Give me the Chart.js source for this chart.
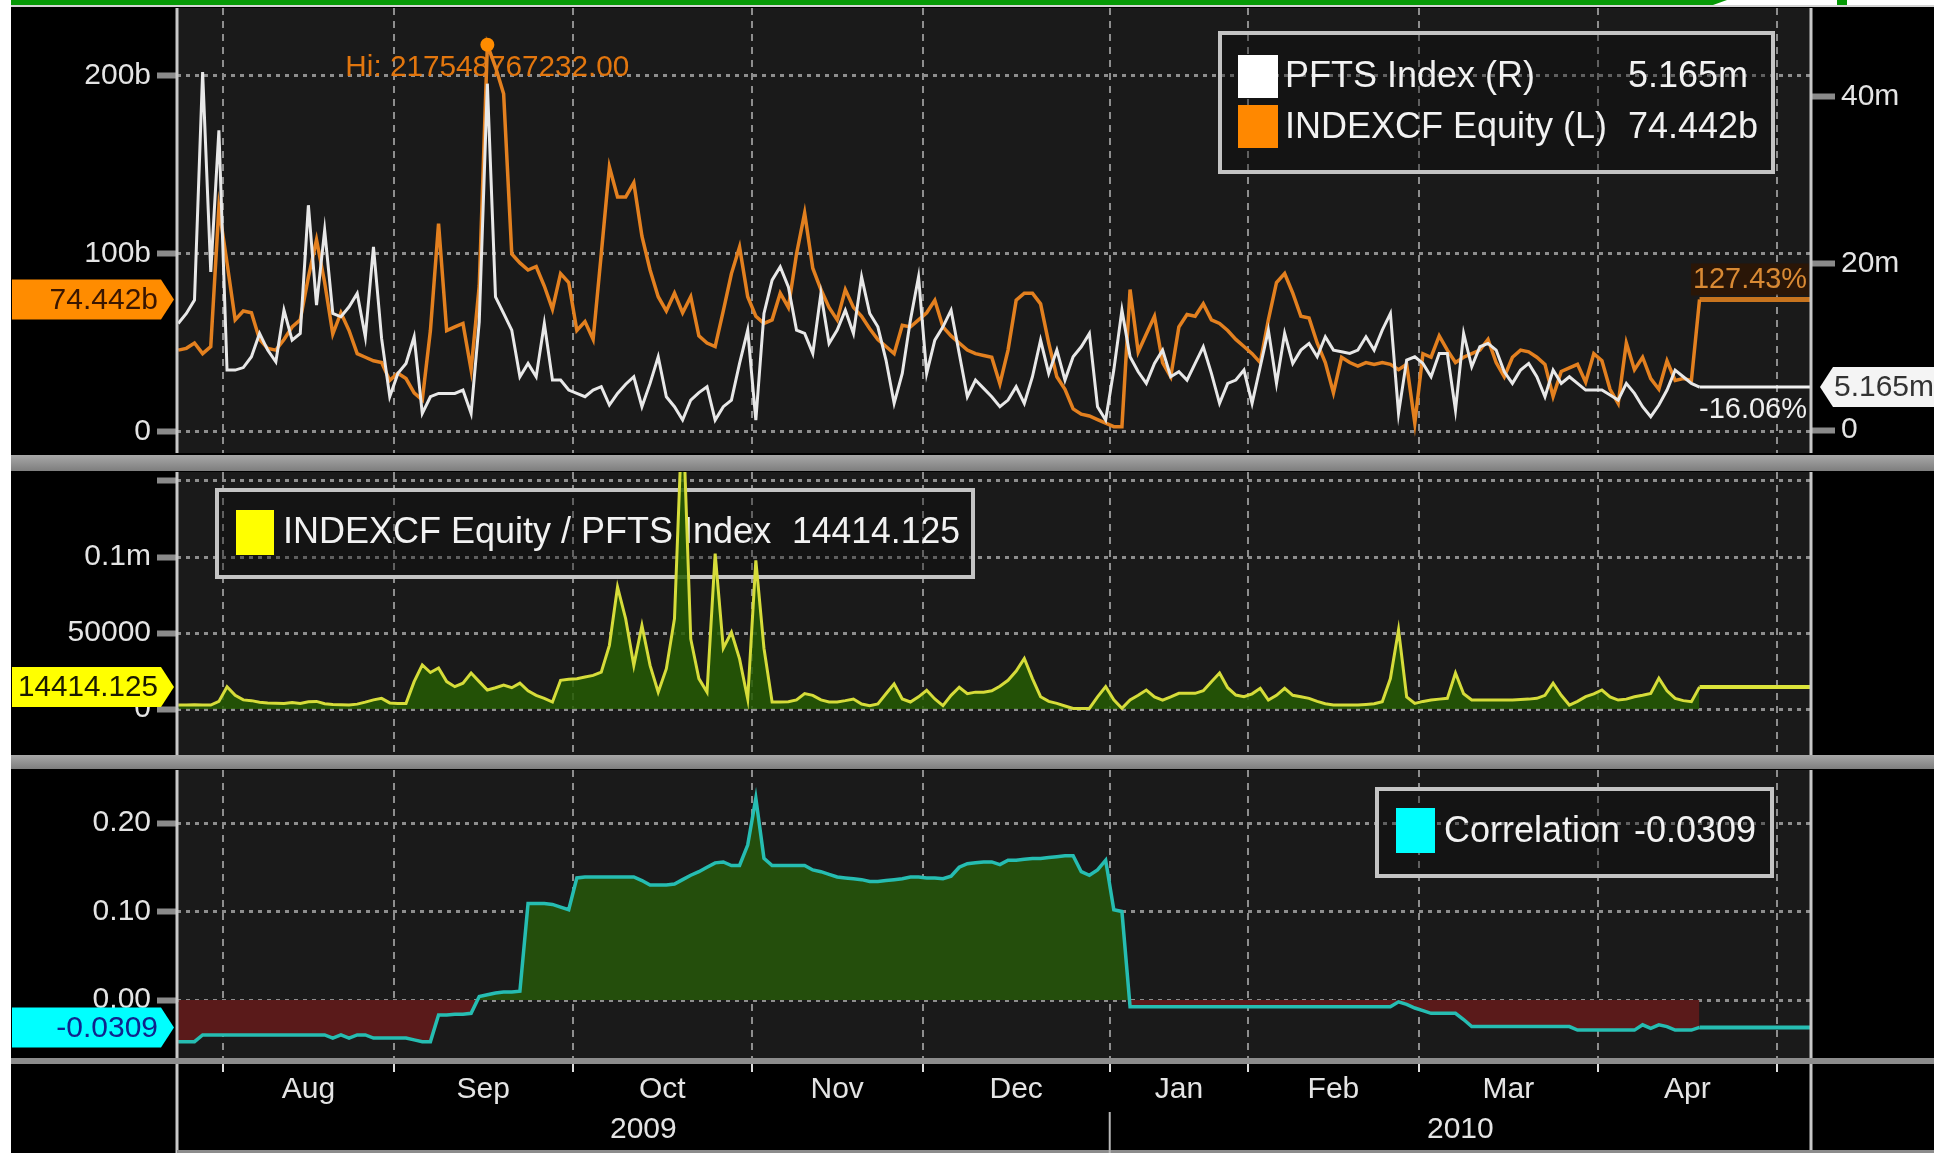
<!DOCTYPE html>
<html>
<head>
<meta charset="utf-8">
<title>INDEXCF Equity / PFTS Index</title>
<script src="https://cdn.jsdelivr.net/npm/chart.js@4.4.0/dist/chart.umd.min.js"></script>
<style>
  html, body { margin: 0; padding: 0; background: #fff; }
  #page { position: relative; width: 1934px; height: 1153px; overflow: hidden; background: #fff; }
  #back { position: absolute; left: 11px; top: 7px; right: 0; bottom: 0; background: #000; }
  .strip { position: absolute; }
  .sep { left: 11px; right: 0; background: linear-gradient(#a8a8a8, #7e7e7e); }
  canvas { position: absolute; left: 11px; }
</style>
</head>
<body>
<div id="page">
  <div id="back"></div>
  <div class="strip" style="left:11px;top:0;width:1716px;height:5px;background:#069906;clip-path:polygon(0 0,100% 0,calc(100% - 14px) 100%,0 100%)"></div>
  <div class="strip" style="left:1837px;top:0;width:10px;height:6px;background:#069906"></div>
  <div class="strip" style="left:11px;top:5px;right:0;height:2px;background:#d4d4d4"></div>
  <canvas id="topChart" width="1923" height="448" style="top:7px"></canvas>
  <div class="strip sep" style="top:455px;height:16px"></div>
  <canvas id="midChart" width="1923" height="284" style="top:471px"></canvas>
  <div class="strip sep" style="top:755px;height:14px"></div>
  <canvas id="botChart" width="1923" height="384" style="top:769px"></canvas>
</div>
<script>
// trading days per month, first entry is the end of July 2009
var daysPerMonth = [6, 21, 22, 22, 21, 23, 17, 21, 22, 22];
var months = ['Aug', 'Sep', 'Oct', 'Nov', 'Dec', 'Jan', 'Feb', 'Mar', 'Apr'];
var years = ['2009', '2010'];

// INDEXCF Equity, billions (left axis)
var indexcf = [46, 47, 50, 44, 48, 126, 95, 63, 68, 67,
  52, 47, 46, 52, 59, 63, 87, 108, 84, 55,
  67, 57, 44, 42, 40, 39, 29, 33, 30, 22,
  18, 57, 117, 57, 59, 61, 35, 82, 217.548767232, 205,
  190, 100, 95, 91, 93, 82, 69, 89, 84, 57,
  62, 52, 100, 149, 132, 132, 140, 110, 91, 76,
  68, 78, 67, 76, 54, 50, 48, 68, 89, 104,
  76, 65, 61, 63, 78, 70, 100, 123, 92, 80,
  70, 63, 80, 70, 65, 58, 52, 48, 44, 60,
  59, 63, 67, 74, 59, 54, 50, 46, 44, 43,
  42, 27, 46, 74, 78, 78, 72, 50, 31, 24,
  13, 10, 9, 7, 5, 3, 3, 80, 45, 55,
  65, 39, 31, 59, 66, 65, 72, 63, 61, 57,
  52, 48, 44, 39, 63, 84, 89, 78, 65, 64,
  50, 39, 22, 42, 39, 37, 39, 38, 39, 38,
  35, 38, 5, 44, 42, 54, 46, 39, 42, 44,
  46, 52, 39, 31, 42, 46, 45, 42, 38, 20,
  34, 36, 38, 28, 44, 40, 24, 16, 50, 35,
  42, 30, 24, 40, 29, 30, 29, 74.442];

// PFTS Index, millions (right axis)
var pfts = [12.8, 14, 15.6, 43, 19, 36, 7.2, 7.2, 7.5, 8.8,
  11.6, 9.6, 8.2, 14.4, 10.8, 11.6, 27, 15, 24, 14,
  13.6, 14.8, 16.4, 11.2, 22, 11, 4, 6.8, 8, 11.2,
  2, 4, 4.4, 4.4, 4.4, 4.8, 2, 13, 41.6, 16,
  14, 12, 6.4, 8, 6.4, 12.8, 6, 6, 4.8, 4.4,
  4, 4.8, 5.2, 3, 4.4, 5.5, 6.4, 2.8, 5.6, 8.8,
  4, 2.8, 1.2, 3.6, 4.5, 5.2, 1.2, 2.8, 3.6, 8,
  12, 1.2, 14, 18, 19.6, 17.2, 12, 11.6, 9.2, 16.4,
  10.4, 12, 14.4, 11.6, 18.4, 14, 12.4, 8.4, 3.2, 6.8,
  13.2, 18.4, 6.8, 10.8, 12.4, 14.4, 9.2, 4, 6, 5,
  4, 2.8, 3.6, 5.2, 3.2, 6.4, 10.8, 6.8, 9.6, 6,
  8.8, 10, 11.6, 2.8, 1.2, 7.2, 14.4, 8.8, 7, 5.6,
  8, 9.6, 6.4, 7, 6, 8, 10, 6.8, 3.2, 5.6,
  6, 7.2, 3.2, 7.6, 12, 5.6, 11.6, 8, 9.6, 10.4,
  8.8, 11.2, 9.6, 9.4, 9.2, 9.6, 11.2, 9.6, 12, 14,
  2, 8.4, 8.8, 8, 6.4, 9.2, 9.2, 2.4, 11.6, 7.6,
  10, 10.4, 9.6, 7, 5.6, 7.2, 8, 6.4, 4, 7.2,
  5.6, 6.4, 5.6, 4.8, 4.8, 4.8, 4.2, 3.6, 5.6, 4.4,
  2.8, 1.6, 3, 4.8, 7.2, 6.4, 5.6, 5.165];

// INDEXCF Equity / PFTS Index
var ratio = [2600, 2600, 2800, 2600, 2600, 5000, 14700, 9000, 6000, 5500,
  4500, 4000, 3800, 3700, 4200, 3600, 4800, 5000, 3500, 3000,
  2800, 2600, 3200, 4500, 6000, 7000, 4000, 3700, 3700, 18000,
  29000, 24000, 27000, 18000, 14700, 17000, 23700, 18000, 12500, 14000,
  15800, 14000, 17000, 12000, 9000, 7000, 4600, 18900, 19500, 19900,
  21000, 22100, 24300, 41900, 80300, 59400, 28700, 55000, 28700, 11100,
  26500, 59400, 200000, 46100, 20000, 11100, 102200, 40000, 50500, 33000,
  6600, 97800, 40000, 4600, 4600, 4800, 6000, 10100, 9000, 6000,
  4600, 4600, 5500, 6600, 3300, 2200, 3300, 10000, 16500, 6600,
  4600, 8000, 12300, 6600, 2200, 9000, 14300, 10100, 11100, 11100,
  12000, 15000, 18900, 25000, 33300, 20000, 8100, 5000, 3700, 2000,
  400, 400, 400, 8000, 14700, 6000, 400, 6000, 9000, 12500,
  8000, 5900, 8000, 10300, 10300, 10300, 12000, 18000, 23700, 14000,
  9200, 8100, 10000, 13600, 5900, 9000, 13600, 9000, 8100, 7000,
  5000, 3500, 2600, 2600, 2600, 2600, 3000, 3500, 4800, 20000,
  52100, 8000, 3700, 5000, 5900, 6500, 7000, 23700, 10000, 5900,
  5900, 5900, 5900, 5900, 5900, 6200, 6500, 7000, 9000, 17000,
  9000, 2600, 5000, 8100, 10000, 12500, 8000, 5900, 6500, 8100,
  9000, 10300, 20200, 12000, 7000, 5500, 4800, 14414.125];

// Correlation
var correlation = [-0.047, -0.047, -0.047, -0.0395, -0.0395, -0.0395, -0.0395, -0.0395, -0.0395, -0.0395,
  -0.0395, -0.0395, -0.0395, -0.0395, -0.0395, -0.0395, -0.0395, -0.0395, -0.0395, -0.043,
  -0.0395, -0.043, -0.0395, -0.0395, -0.043, -0.043, -0.043, -0.043, -0.043, -0.045,
  -0.047, -0.047, -0.017, -0.017, -0.016, -0.016, -0.015, 0.004, 0.006, 0.008,
  0.009, 0.009, 0.010, 0.109, 0.109, 0.109, 0.108, 0.105, 0.102, 0.138,
  0.139, 0.139, 0.139, 0.139, 0.139, 0.139, 0.139, 0.135, 0.130, 0.130,
  0.130, 0.131, 0.136, 0.141, 0.145, 0.150, 0.155, 0.156, 0.152, 0.152,
  0.175, 0.228, 0.160, 0.152, 0.152, 0.152, 0.152, 0.152, 0.147, 0.145,
  0.142, 0.139, 0.138, 0.137, 0.136, 0.134, 0.134, 0.135, 0.136, 0.137,
  0.139, 0.139, 0.138, 0.138, 0.137, 0.140, 0.150, 0.154, 0.155, 0.156,
  0.156, 0.153, 0.158, 0.158, 0.159, 0.160, 0.160, 0.161, 0.162, 0.163,
  0.163, 0.145, 0.141, 0.147, 0.158, 0.102, 0.100, -0.0075, -0.0075, -0.0075,
  -0.0075, -0.0075, -0.0075, -0.0075, -0.0075, -0.0075, -0.0075, -0.0075, -0.0075, -0.0075,
  -0.0075, -0.0075, -0.0075, -0.0075, -0.0075, -0.0075, -0.0075, -0.0075, -0.0075, -0.0075,
  -0.0075, -0.0075, -0.0075, -0.0075, -0.0075, -0.0075, -0.0075, -0.0075, -0.0075, -0.0075,
  -0.002, -0.005, -0.009, -0.012, -0.015, -0.015, -0.015, -0.015, -0.022, -0.030,
  -0.030, -0.030, -0.030, -0.030, -0.030, -0.030, -0.030, -0.030, -0.030, -0.030,
  -0.030, -0.030, -0.034, -0.034, -0.034, -0.034, -0.034, -0.034, -0.034, -0.034,
  -0.028, -0.032, -0.028, -0.030, -0.034, -0.034, -0.034, -0.0309];

// tick values and labels
var leftTicks = [0, 100, 200];
var leftTickLabels = ['0', '100b', '200b'];
var rightTicks = [0, 20, 40];
var rightTickLabels = ['0', '20m', '40m'];
var ratioTicks = [0, 50000, 100000, 150000];
var ratioTickLabels = ['0', '50000', '0.1m', ''];
var corrTicks = [0, 0.1, 0.2];
var corrTickLabels = ['0.00', '0.10', '0.20'];
var pctChange = ['127.43%', '-16.06%'];

var FONT = "'Liberation Sans', Arial, sans-serif";
var xMin = -0.15;
var xMax = 200.7;

// month edges and label positions on the trading day axis
var monthEdges = [];
var acc = 0;
for (var i = 0; i < daysPerMonth.length; i++) {
  acc += daysPerMonth[i];
  monthEdges.push(acc - 0.5);
}
var monthCenters = [];
for (var i = 0; i < months.length; i++) {
  monthCenters.push((monthEdges[i] + monthEdges[i + 1]) / 2);
}
var yearEdge = monthEdges[5];
var yearCenters = [(xMin + yearEdge) / 2, (yearEdge + xMax) / 2];

function toPoints(arr) {
  return arr.map(function (v, i) { return { x: i, y: v }; });
}
function lastLine(arr) {
  var n = arr.length - 1;
  return [{ x: n, y: arr[n] }, { x: xMax, y: arr[n] }];
}
function setTicks(list) {
  return function (scale) { scale.ticks = list.map(function (v) { return { value: v }; }); };
}
// fixed axis size, no extra room for edge labels
function fixWidth(w) {
  return function (s) { s.width = w; s.paddingTop = 0; s.paddingBottom = 0; };
}
function fixHeight(h) {
  return function (s) { s.height = h; s.paddingLeft = 0; s.paddingRight = 0; };
}

function txt(ctx, s, x, y, size, color, align, maxW) {
  ctx.save();
  ctx.font = size + 'px ' + FONT;
  ctx.fillStyle = color;
  ctx.textAlign = align || 'left';
  ctx.textBaseline = 'middle';
  if (maxW) ctx.fillText(s, x, y, maxW); else ctx.fillText(s, x, y);
  ctx.restore();
}

function tagLeft(ctx, s, yc, fill, color) {
  var h = 40, x0 = 1, x1 = 150, tip = 163;
  ctx.save();
  ctx.beginPath();
  ctx.moveTo(x0, yc - h / 2);
  ctx.lineTo(x1, yc - h / 2);
  ctx.lineTo(tip, yc);
  ctx.lineTo(x1, yc + h / 2);
  ctx.lineTo(x0, yc + h / 2);
  ctx.closePath();
  ctx.fillStyle = fill;
  ctx.fill();
  ctx.restore();
  txt(ctx, s, 147, yc + 1, 30, color, 'right', 140);
}

function tagRight(ctx, s, yc, fill, color) {
  var h = 40, tip = 1809, x1 = 1822, x2 = 1923;
  ctx.save();
  ctx.beginPath();
  ctx.moveTo(tip, yc);
  ctx.lineTo(x1, yc - h / 2);
  ctx.lineTo(x2, yc - h / 2);
  ctx.lineTo(x2, yc + h / 2);
  ctx.lineTo(x1, yc + h / 2);
  ctx.closePath();
  ctx.fillStyle = fill;
  ctx.fill();
  ctx.restore();
  txt(ctx, s, 1823, yc + 1, 30, color, 'left', 100);
}

function legendBox(ctx, x, y, w, h) {
  ctx.save();
  ctx.fillStyle = 'rgba(12,12,12,0.35)';
  ctx.fillRect(x, y, w, h);
  ctx.strokeStyle = '#c4c4c4';
  ctx.lineWidth = 4;
  ctx.strokeRect(x, y, w, h);
  ctx.restore();
}

function swatch(ctx, x, y, w, h, color) {
  ctx.save();
  ctx.fillStyle = color;
  ctx.fillRect(x, y, w, h);
  ctx.restore();
}

// background and frame for each panel
function panelPlugin(extendDown) {
  return {
    id: 'panel',
    beforeDraw: function (chart) {
      var ctx = chart.ctx, a = chart.chartArea;
      ctx.save();
      ctx.fillStyle = '#000';
      ctx.fillRect(0, 0, chart.width, chart.height);
      ctx.fillStyle = '#1a1a1a';
      ctx.fillRect(a.left, a.top, a.right - a.left, a.bottom - a.top);
      ctx.restore();
    },
    afterDraw: function (chart) {
      var ctx = chart.ctx, a = chart.chartArea;
      var bottom = extendDown ? chart.height : a.bottom;
      ctx.save();
      ctx.strokeStyle = '#c8c8c8';
      ctx.lineWidth = 3;
      ctx.beginPath();
      ctx.moveTo(a.left, a.top);
      ctx.lineTo(a.left, bottom);
      ctx.moveTo(a.right, a.top);
      ctx.lineTo(a.right, bottom);
      ctx.stroke();
      ctx.restore();
    }
  };
}

function xDataScale(extra) {
  var base = {
    type: 'linear', min: xMin, max: xMax, weight: 0,
    afterBuildTicks: setTicks(monthEdges),
    ticks: { display: false },
    grid: { color: '#8e8e8e', lineWidth: 2, drawTicks: false },
    border: { display: false, dash: [7, 6] },
    afterFit: fixHeight(0)
  };
  return Object.assign(base, extra || {});
}

function yScale(min, max, ticks, labels, extra) {
  var base = {
    type: 'linear', position: 'left', min: min, max: max,
    afterBuildTicks: setTicks(ticks),
    ticks: {
      color: '#e4e4e4', padding: 6, autoSkip: false,
      font: { family: FONT, size: 30 },
      callback: function (v, i) { return labels[i]; }
    },
    grid: { color: '#8e8e8e', lineWidth: 3, tickColor: '#8a8a8a', tickLength: 20, tickWidth: 6 },
    border: { display: false, dash: [4, 5] },
    afterFit: fixWidth(166)
  };
  return Object.assign(base, extra || {});
}

var common = {
  responsive: false,
  animation: false,
  devicePixelRatio: 1,
  events: [],
  elements: { point: { radius: 0, hoverRadius: 0 }, line: { tension: 0 } }
};

// ---------- top panel ----------
var hiIndex = indexcf.indexOf(Math.max.apply(null, indexcf));
var lastCf = indexcf[indexcf.length - 1];
var lastPfts = pfts[pfts.length - 1];

var topExtras = {
  id: 'topExtras',
  beforeDatasetsDraw: function (chart) {
    var ctx = chart.ctx;
    legendBox(ctx, 1209, 26, 553, 139);
    swatch(ctx, 1227, 48, 40, 43, '#ffffff');
    swatch(ctx, 1227, 98, 40, 43, '#ff8800');
    txt(ctx, 'PFTS Index (R)', 1274, 70, 36, '#f2f2f2', 'left', 255);
    txt(ctx, lastPfts.toFixed(3) + 'm', 1617, 70, 36, '#f2f2f2', 'left');
    txt(ctx, 'INDEXCF Equity (L)', 1274, 121, 36, '#f2f2f2', 'left', 325);
    txt(ctx, lastCf.toFixed(3) + 'b', 1617, 121, 36, '#f2f2f2', 'left');
    var hx = chart.scales.x.getPixelForValue(hiIndex);
    var hy = chart.scales.y.getPixelForValue(indexcf[hiIndex]);
    txt(ctx, 'Hi: ' + (indexcf[hiIndex] * 1e9).toFixed(2), hx - 142, hy + 23, 30, '#e2760e', 'left', 284);
  },
  afterDraw: function (chart) {
    var ctx = chart.ctx, a = chart.chartArea;
    var yo = chart.scales.y.getPixelForValue(lastCf);
    var yw = chart.scales.y1.getPixelForValue(lastPfts);
    ctx.save();
    ctx.fillStyle = 'rgba(50,22,0,0.7)';
    ctx.fillRect(a.right - 120, yo - 36, 118, 32);
    ctx.restore();
    txt(ctx, pctChange[0], a.right - 4, yo - 19, 29, '#d98a34', 'right', 114);
    txt(ctx, pctChange[1], a.right - 4, yw + 23, 29, '#f0f0f0', 'right', 112);
    tagLeft(ctx, lastCf.toFixed(3) + 'b', yo, '#ff8c00', '#3a1600');
    tagRight(ctx, lastPfts.toFixed(3) + 'm', yw, '#f4f4f4', '#333333');
  }
};

new Chart(document.getElementById('topChart'), {
  type: 'line',
  data: {
    datasets: [
      { data: toPoints(pfts), yAxisID: 'y1', borderColor: '#e8e8e8', borderWidth: 3, order: 0 },
      { data: lastLine(pfts), yAxisID: 'y1', borderColor: '#f0f0f0', borderWidth: 3, order: 1 },
      {
        data: toPoints(indexcf), yAxisID: 'y', borderColor: '#e3801f', borderWidth: 3.5, order: 2,
        pointRadius: function (c) { return c.dataIndex === hiIndex ? 7 : 0; },
        pointBackgroundColor: '#ff8c00', pointBorderWidth: 0
      },
      { data: lastLine(indexcf), yAxisID: 'y', borderColor: '#c8741e', borderWidth: 5, order: 3 }
    ]
  },
  options: Object.assign({}, common, {
    layout: { padding: { top: 1, bottom: 2, left: 0, right: 0 } },
    plugins: { legend: { display: false }, tooltip: { enabled: false } },
    scales: {
      x: xDataScale(),
      y: yScale(-11.8, 238.2, leftTicks, leftTickLabels),
      y1: yScale(-2.76, 50.69, rightTicks, rightTickLabels, {
        position: 'right',
        grid: { drawOnChartArea: false, tickColor: '#8a8a8a', tickLength: 24, tickWidth: 6 },
        border: { display: false },
        afterFit: fixWidth(123)
      })
    }
  }),
  plugins: [panelPlugin(false), topExtras]
});

// ---------- middle panel ----------
var lastRatio = ratio[ratio.length - 1];
var midExtras = {
  id: 'midExtras',
  beforeDatasetsDraw: function (chart) {
    var ctx = chart.ctx;
    legendBox(ctx, 206, 19, 756, 87);
    swatch(ctx, 225, 39, 38, 45, '#ffff00');
    txt(ctx, 'INDEXCF Equity / PFTS Index', 272, 62, 36, '#f2f2f2', 'left', 492);
    txt(ctx, lastRatio.toFixed(3), 781, 62, 36, '#f2f2f2', 'left', 168);
  },
  afterDraw: function (chart) {
    var y = chart.scales.y.getPixelForValue(lastRatio);
    tagLeft(chart.ctx, lastRatio.toFixed(3), y, '#ffff00', '#1a1a00');
  }
};

new Chart(document.getElementById('midChart'), {
  type: 'line',
  data: {
    datasets: [
      {
        data: toPoints(ratio), borderColor: '#d6dc3a', borderWidth: 3,
        fill: { target: 'origin', above: 'rgba(38,92,4,0.85)' }
      },
      { data: lastLine(ratio), borderColor: '#dce43a', borderWidth: 4 }
    ]
  },
  options: Object.assign({}, common, {
    layout: { padding: { top: 1, bottom: 0, left: 0, right: 123 } },
    plugins: { legend: { display: false }, tooltip: { enabled: false } },
    scales: {
      x: xDataScale(),
      y: yScale(-30263, 155921, ratioTicks, ratioTickLabels)
    }
  }),
  plugins: [panelPlugin(false), midExtras]
});

// ---------- bottom panel ----------
var lastCorr = correlation[correlation.length - 1];
var botExtras = {
  id: 'botExtras',
  beforeDatasetsDraw: function (chart) {
    var ctx = chart.ctx;
    legendBox(ctx, 1366, 20, 395, 87);
    swatch(ctx, 1385, 39, 39, 45, '#00ffff');
    txt(ctx, 'Correlation', 1433, 63, 36, '#f2f2f2', 'left', 178);
    txt(ctx, lastCorr.toFixed(4), 1623, 63, 36, '#f2f2f2', 'left', 124);
  },
  afterDraw: function (chart) {
    var ctx = chart.ctx, a = chart.chartArea;
    ctx.save();
    ctx.fillStyle = '#8c8c8c';
    ctx.fillRect(0, a.bottom, chart.width, 6);
    ctx.fillRect(a.left, chart.height - 3, chart.width - a.left, 3);
    var xs = chart.scales.x.getPixelForValue(yearEdge);
    ctx.strokeStyle = '#b8b8b8';
    ctx.lineWidth = 2;
    ctx.beginPath();
    ctx.moveTo(xs, a.bottom + 54);
    ctx.lineTo(xs, chart.height);
    ctx.stroke();
    ctx.restore();
    var y = chart.scales.y.getPixelForValue(lastCorr);
    tagLeft(ctx, lastCorr.toFixed(4), y, '#00ffff', '#10248c');
  }
};

new Chart(document.getElementById('botChart'), {
  type: 'line',
  data: {
    datasets: [
      {
        data: toPoints(correlation), borderColor: '#26bdb2', borderWidth: 3.5,
        fill: { target: 'origin', above: '#244e0c', below: '#5a1a1a' }
      },
      { data: lastLine(correlation), borderColor: '#26bdb2', borderWidth: 4 }
    ]
  },
  options: Object.assign({}, common, {
    layout: { padding: { top: 1, bottom: 0, left: 0, right: 123 } },
    plugins: { legend: { display: false }, tooltip: { enabled: false } },
    scales: {
      x: xDataScale({
        grid: { color: '#8e8e8e', lineWidth: 2, drawTicks: true, tickLength: 14, tickColor: '#dedede', tickWidth: 2 },
        afterFit: fixHeight(14)
      }),
      xm: {
        type: 'linear', position: 'bottom', min: xMin, max: xMax, weight: 1,
        afterBuildTicks: setTicks(monthCenters),
        ticks: {
          color: '#e4e4e4', padding: 0, autoSkip: false, maxRotation: 0,
          font: { family: FONT, size: 30 },
          callback: function (v, i) { return months[i]; }
        },
        grid: { display: false, drawTicks: false, tickLength: 0 },
        border: { display: false },
        afterFit: fixHeight(40)
      },
      xy: {
        type: 'linear', position: 'bottom', min: xMin, max: xMax, weight: 2,
        afterBuildTicks: setTicks(yearCenters),
        ticks: {
          color: '#e4e4e4', padding: 0, autoSkip: false, maxRotation: 0,
          font: { family: FONT, size: 30 },
          callback: function (v, i) { return years[i]; }
        },
        grid: { display: false, drawTicks: false, tickLength: 0 },
        border: { display: false },
        afterFit: fixHeight(41)
      },
      y: yScale(-0.0655, 0.2599, corrTicks, corrTickLabels)
    }
  }),
  plugins: [panelPlugin(true), botExtras]
});
</script>
</body>
</html>
